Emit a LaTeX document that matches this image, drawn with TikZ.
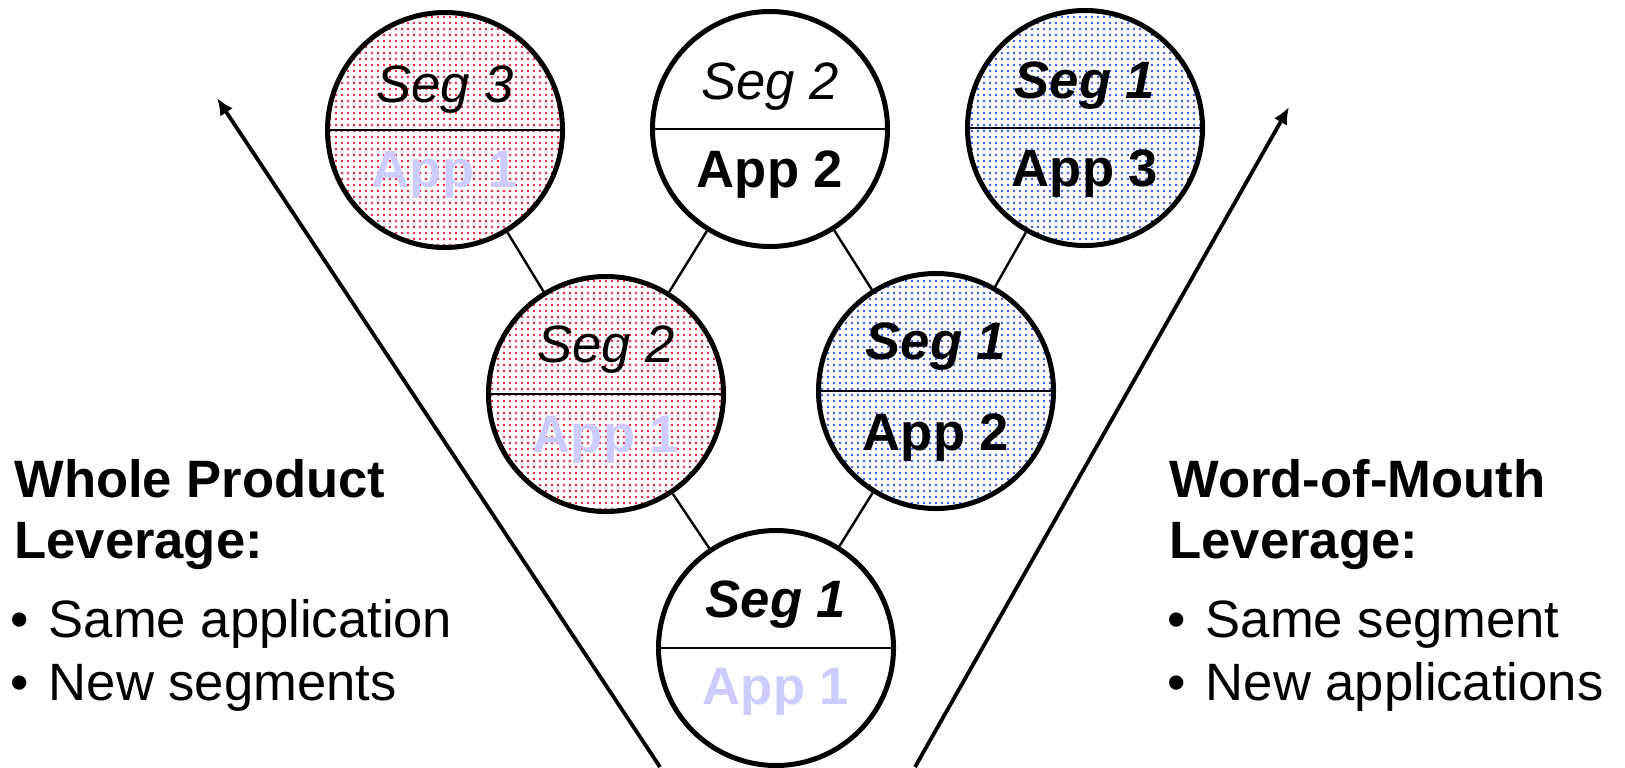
\documentclass[tikz,border=0pt]{standalone}
\usepackage{fontspec}
\setmainfont{Liberation Sans}
\usetikzlibrary{patterns.meta,arrows.meta}
\definecolor{dotred}{RGB}{230,30,50}
\definecolor{dotblue}{RGB}{40,90,230}
\definecolor{paleapp}{RGB}{204,204,255}
\begin{document}
\begin{tikzpicture}[x=0.5pt,y=-0.5pt,
    seg/.style={circle, draw, line width=2.5pt, minimum size=117.5pt, inner sep=0pt},
    redseg/.style={seg, pattern={Dots[distance=3pt, radius=0.7pt]}, pattern color=dotred},
    blueseg/.style={seg, pattern={Dots[distance=3pt, radius=0.7pt]}, pattern color=dotblue},
    divider/.style={line width=1.2pt},
    link/.style={line width=1.2pt},
    lever/.style={line width=1.9pt, -{Latex[length=8.5pt,width=7.5pt]}},
    segtxt/.style={anchor=base, inner sep=0pt, font=\fontsize{26.3}{31}\selectfont\itshape},
    segbold/.style={segtxt, font=\fontsize{26.3}{31}\selectfont\bfseries\itshape},
    apptxt/.style={anchor=base, inner sep=0pt, font=\fontsize{26.3}{31}\selectfont\bfseries},
    apppale/.style={apptxt, text=paleapp},
    side/.style={anchor=base west, inner sep=0pt, font=\fontsize{26.3}{31}\selectfont},
    sidehead/.style={side, font=\fontsize{26.3}{31}\selectfont\bfseries}]
            \useasboundingbox (0,0) rectangle (1625,767);
            % segment / application circles
            \node [redseg] (s3a1) at (445,130) {};
            \node [seg] (s2a2) at (770,129) {};
            \node [blueseg] (s1a3) at (1085,128) {};
            \node [redseg] (s2a1) at (606,394) {};
            \node [blueseg] (s1a2) at (936,391) {};
            \node [seg] (s1a1) at (776,648) {};
            \draw [divider] (s3a1.west) -- (s3a1.east);
            \draw [divider] (s2a2.west) -- (s2a2.east);
            \draw [divider] (s1a3.west) -- (s1a3.east);
            \draw [divider] (s2a1.west) -- (s2a1.east);
            \draw [divider] (s1a2.west) -- (s1a2.east);
            \draw [divider] (s1a1.west) -- (s1a1.east);
            \node [segtxt] (s3a1-seg) at (445,102) {Seg 3};
            \node [apppale] (s3a1-app) at (445,187) {App 1};
            \node [segtxt] (s2a2-seg) at (770,99) {Seg 2};
            \node [apptxt] (s2a2-app) at (770,187) {App 2};
            \node [segbold] (s1a3-seg) at (1085,98) {Seg 1};
            \node [apptxt] (s1a3-app) at (1085,186) {App 3};
            \node [segtxt] (s2a1-seg) at (606,362) {Seg 2};
            \node [apppale] (s2a1-app) at (606,452) {App 1};
            \node [segbold] (s1a2-seg) at (936,359) {Seg 1};
            \node [apptxt] (s1a2-app) at (936,450) {App 2};
            \node [segbold] (s1a1-seg) at (776,617) {Seg 1};
            \node [apppale] (s1a1-app) at (776,704) {App 1};
            % links
            \draw [link] (s3a1) -- (s2a1);
            \draw [link] (s2a2) -- (s2a1);
            \draw [link] (s2a2) -- (s1a2);
            \draw [link] (s1a3) -- (s1a2);
            \draw [link] (s2a1) -- (s1a1);
            \draw [link] (s1a2) -- (s1a1);
            % leverage arrows
            \coordinate (wp-foot) at (660,767);
            \coordinate (wp-tip) at (217,98);
            \coordinate (wm-foot) at (915,767);
            \coordinate (wm-tip) at (1289,107);
            \draw [lever] (wp-foot) -- (wp-tip);
            \draw [lever] (wm-foot) -- (wm-tip);
            % side texts
            \node [sidehead] (wp-head) at (14,497) {Whole Product};
            \node [sidehead] (wp-lev) at (14,558) {Leverage:};
            \node [side] (wp-same) at (10,637) {•\hspace{0.38em}Same application};
            \node [side] (wp-new) at (10,700) {•\hspace{0.38em}New segments};
            \node [sidehead] (wm-head) at (1169,497) {Word-of-Mouth};
            \node [sidehead] (wm-lev) at (1169,558) {Leverage:};
            \node [side] (wm-same) at (1167,637) {•\hspace{0.38em}Same segment};
            \node [side] (wm-new) at (1167,700) {•\hspace{0.38em}New applications};
        \end{tikzpicture}
\end{document}
